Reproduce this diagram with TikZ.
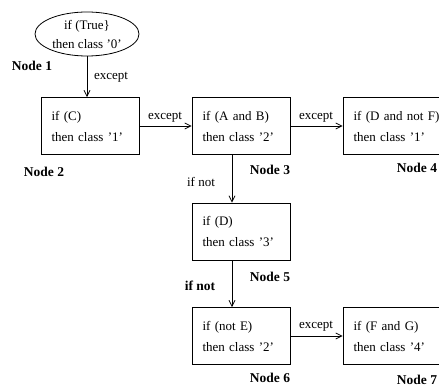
\documentclass[tikz,border=0pt]{standalone}
\usepackage{fontspec}
\setmainfont{Liberation Serif}
\usetikzlibrary{arrows.meta,shapes.geometric}
\begin{document}
\begin{tikzpicture}[x=1pt,y=-1pt,
  every node/.style={font=\fontsize{13}{21}\selectfont},
  box/.style={draw,line width=0.8pt,minimum width=98pt,minimum height=57pt,
    inner xsep=10.5pt,inner ysep=0pt,text width=77pt,align=left},
  wbox/.style={box,text width=100pt},
  ell/.style={draw,ellipse,line width=0.8pt,minimum width=104pt,minimum height=44pt,
    inner sep=0pt,align=center,font=\fontsize{13}{19}\selectfont},
  lbl/.style={inner sep=0pt},
  nlbl/.style={inner sep=0pt,font=\fontsize{13.5}{16}\selectfont\bfseries},
  arr/.style={line width=0.8pt,-{Straight Barb[length=6pt,width=6pt,line width=0.8pt]}}]
\useasboundingbox (0,0) rectangle (439,387);
\node[ell] (n1) at (87,34) {if (True\}\\then class '0'};
\node[box] (n2) at (90,126) {if (C)\\then class '1'};
\node[box] (n3) at (241,126) {if (A and B)\\then class '2'};
\node[wbox] (n4) at (403.5,126) {if (D and not F)\\then class '1'};
\node[box] (n5) at (241,231.5) {if (D)\\then class '3'};
\node[box] (n6) at (241,336) {if (not E)\\then class '2'};
\node[wbox] (n7) at (403.5,336) {if (F and G)\\then class '4'};
\node[nlbl] (l1) at (32,66) {Node 1};
\node[nlbl] (l2) at (44,172) {Node 2};
\node[nlbl] (l3) at (270,170) {Node 3};
\node[nlbl] (l4) at (417,168) {Node 4};
\node[nlbl] (l5) at (270,277) {Node 5};
\node[nlbl] (l6) at (270,378) {Node 6};
\node[nlbl] (l7) at (417,380) {Node 7};
\draw[arr] (n1.south) -- (n1.south |- n2.north);
\node[lbl] (e1) at (111,77) {except};
\draw[arr] (n2) -- (n3);
\node[lbl] (e2) at (165,117) {except};
\draw[arr] (n3) -- (n4);
\node[lbl] (e3) at (316,117) {except};
\draw[arr] ([xshift=-9pt]n3.south) -- ([xshift=-9pt]n5.north);
\node[lbl] (i1) at (201,182) {if not};
\draw[arr] ([xshift=-9pt]n5.south) -- ([xshift=-9pt]n6.north);
\node[nlbl] (i2) at (200,286) {if not};
\draw[arr] (n6) -- (n7);
\node[lbl] (e4) at (316,326) {except};
\end{tikzpicture}
\end{document}
